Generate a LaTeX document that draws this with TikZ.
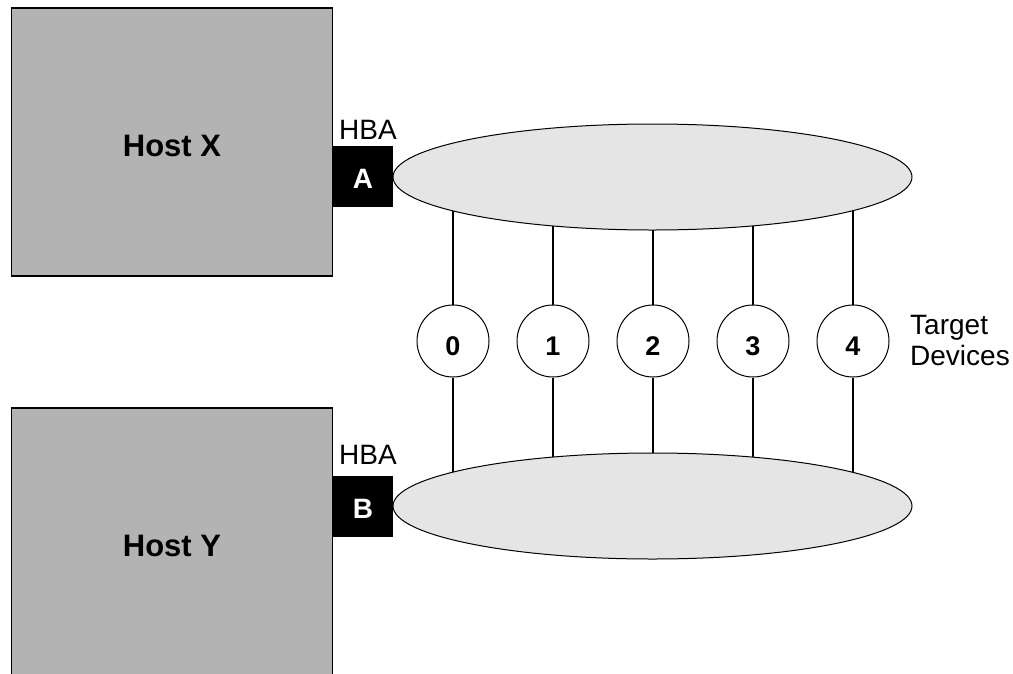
\documentclass[tikz,border=0pt]{standalone}
\usepackage{fontspec}
\setmainfont{Liberation Sans}
\usetikzlibrary{shapes.geometric,backgrounds}
\definecolor{hostgray}{RGB}{179,179,179}
\definecolor{netgray}{RGB}{229,229,229}

\tikzset{
  host/.style={draw, line width=1.4pt, fill=hostgray, minimum width=321pt,
    minimum height=268pt, inner sep=0pt, text height=29pt,
    font=\bfseries\fontsize{31}{36}\selectfont},
  port/.style={fill=black, text=white, minimum width=60pt, minimum height=61pt,
    inner sep=0pt, text height=24pt, font=\bfseries\fontsize{28}{32}\selectfont},
  fabric/.style={ellipse, draw, line width=1pt, fill=netgray,
    minimum width=519pt, minimum height=106pt, inner sep=0pt},
  target/.style={circle, draw, line width=1pt, fill=white, minimum size=72pt,
    inner sep=0pt, text height=29pt, font=\bfseries\fontsize{27}{30}\selectfont},
  lbl/.style={inner sep=0pt, font=\fontsize{28}{31}\selectfont},
  link/.style={line width=1.3pt}
}

\begin{document}
\begin{tikzpicture}[x=1pt,y=-1pt]
      \clip (0,0) rectangle (1013,673);

      \node[host] (hostX) at (172,142) {Host X};
      \node[host] (hostY) at (172,542) {Host Y};

      \node[port] (hbaA) at (363,176.5) {A};
      \node[port] (hbaB) at (363,506) {B};
      \node[lbl, anchor=base west] (hbaAlbl) at (339,139) {HBA};
      \node[lbl, anchor=base west] (hbaBlbl) at (339,464) {HBA};

      \node[fabric] (netA) at (652.5,177) {};
      \node[fabric] (netB) at (652.5,506) {};

      \node[target] (t0) at (453,341) {0};
      \node[target] (t1) at (553,341) {1};
      \node[target] (t2) at (653,341) {2};
      \node[target] (t3) at (753,341) {3};
      \node[target] (t4) at (853,341) {4};
      \node[lbl, anchor=west, align=left] (tlbl) at (910,340.5) {Target\\Devices};

      \begin{scope}[on background layer]
        \draw[link] (t0.north) -- (t0 |- netA.center);
        \draw[link] (t1.north) -- (t1 |- netA.center);
        \draw[link] (t2.north) -- (t2 |- netA.center);
        \draw[link] (t3.north) -- (t3 |- netA.center);
        \draw[link] (t4.north) -- (t4 |- netA.center);
        \draw[link] (t0.south) -- (t0 |- netB.center);
        \draw[link] (t1.south) -- (t1 |- netB.center);
        \draw[link] (t2.south) -- (t2 |- netB.center);
        \draw[link] (t3.south) -- (t3 |- netB.center);
        \draw[link] (t4.south) -- (t4 |- netB.center);
      \end{scope}
    \end{tikzpicture}
\end{document}
